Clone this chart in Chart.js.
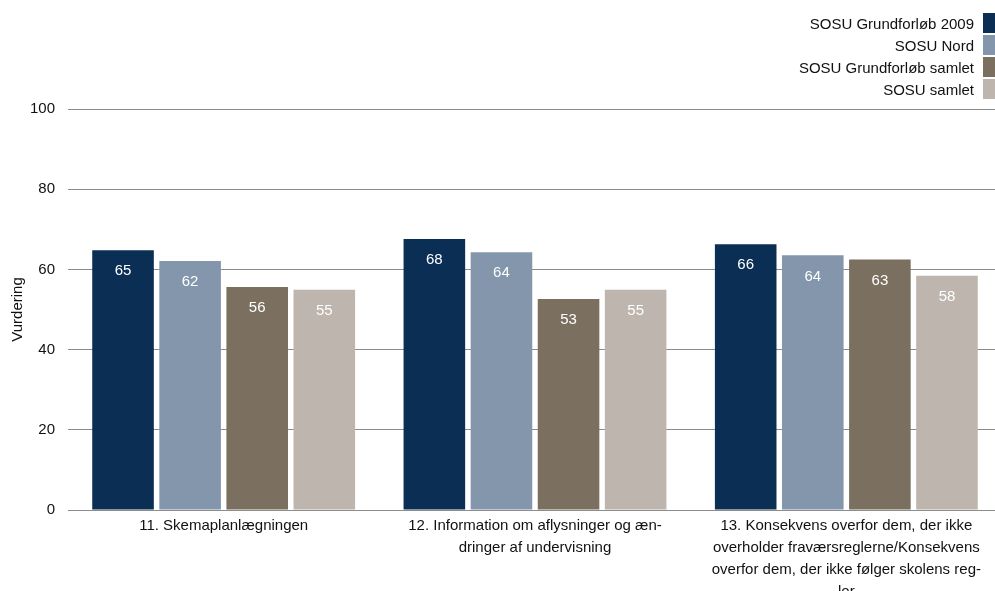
<!DOCTYPE html>
<html>
<head>
<meta charset="utf-8">
<script src="https://cdn.jsdelivr.net/npm/chart.js@4"></script>
<style>
  html, body { margin: 0; padding: 0; background: #fff; overflow: hidden; width: 995px; height: 591px; }
  #wrap { position: absolute; left: 0; top: 0; width: 1002px; height: 591px; }
  #legend { position: absolute; right: 0; top: 13px; font-family: "Liberation Sans", Arial, sans-serif; font-size: 15px; color: #111; }
  .li { display: flex; justify-content: flex-end; align-items: center; height: 20px; margin-bottom: 2px; }
  .li span.t { margin-right: 9px; white-space: nowrap; }
  .li span.b { width: 12px; height: 20px; display: inline-block; }
</style>
</head>
<body>
<div id="wrap"><canvas id="c" width="1002" height="591"></canvas></div>
<div id="legend"></div>
<script>
const categories = [
  ["11. Skemaplanlægningen"],
  ["12. Information om aflysninger og æn-", "dringer af undervisning"],
  ["13. Konsekvens overfor dem, der ikke", "overholder fraværsreglerne/Konsekvens", "overfor dem, der ikke følger skolens reg-", "ler"]
];
const seriesNames = ["SOSU Grundforløb 2009", "SOSU Nord", "SOSU Grundforløb samlet", "SOSU samlet"];
const grundforloeb2009 = [64.8, 67.6, 66.3];
const sosuNord = [62.1, 64.3, 63.5];
const grundforloebSamlet = [55.6, 52.6, 62.5];
const sosuSamlet = [54.9, 54.9, 58.4];
const yTicks = [0, 20, 40, 60, 80, 100];
const colors = ["#0b2e55", "#8396ab", "#7b6f60", "#bdb5ae"];

const seriesValues = [grundforloeb2009, sosuNord, grundforloebSamlet, sosuSamlet];
const FONT = "Liberation Sans";

const valueLabels = {
  id: 'valueLabels',
  afterDatasetsDraw(chart) {
    const ctx = chart.ctx;
    ctx.save();
    ctx.fillStyle = '#ffffff';
    ctx.font = '15px "' + FONT + '"';
    ctx.textAlign = 'center';
    ctx.textBaseline = 'middle';
    chart.data.datasets.forEach((ds, i) => {
      const meta = chart.getDatasetMeta(i);
      meta.data.forEach((bar, j) => {
        ctx.fillText(String(Math.round(ds.data[j])), bar.x, bar.y + 21);
      });
    });
    ctx.restore();
  }
};

const chart = new Chart(document.getElementById('c'), {
  type: 'bar',
  data: {
    labels: categories,
    datasets: seriesNames.map((n, i) => ({
      label: n,
      data: seriesValues[i],
      backgroundColor: colors[i],
      borderWidth: 0,
      categoryPercentage: 0.862,
      barPercentage: 0.918
    }))
  },
  options: {
    responsive: false,
    animation: false,
    devicePixelRatio: 1,
    layout: { padding: { top: 109, right: 0, left: 0, bottom: 0 } },
    plugins: { legend: { display: false }, tooltip: { enabled: false } },
    scales: {
      x: {
        grid: { display: false, drawTicks: false },
        border: { display: false },
        ticks: {
          color: '#111',
          font: { family: FONT, size: 15, lineHeight: '22px' },
          padding: 5,
          maxRotation: 0,
          autoSkip: false
        },
        afterFit(scale) { scale.height = 81; }
      },
      y: {
        min: 0, max: 100,
        afterBuildTicks(scale) { scale.ticks = yTicks.map(v => ({ value: v })); },
        grid: { color: '#8c8c8c', lineWidth: 1, drawTicks: false },
        border: { display: false },
        ticks: { color: '#111', font: { family: FONT, size: 15 }, padding: 13 },
        title: { display: true, text: 'Vurdering', color: '#111', font: { family: FONT, size: 15 }, padding: { top: 9, bottom: 0 } },
        afterFit(scale) { scale.width = 68; }
      }
    }
  },
  plugins: [valueLabels]
});

const leg = document.getElementById('legend');
seriesNames.forEach((n, i) => {
  const row = document.createElement('div');
  row.className = 'li';
  const t = document.createElement('span'); t.className = 't'; t.textContent = n;
  const b = document.createElement('span'); b.className = 'b'; b.style.background = colors[i];
  row.appendChild(t); row.appendChild(b);
  leg.appendChild(row);
});
</script>
</body>
</html>
